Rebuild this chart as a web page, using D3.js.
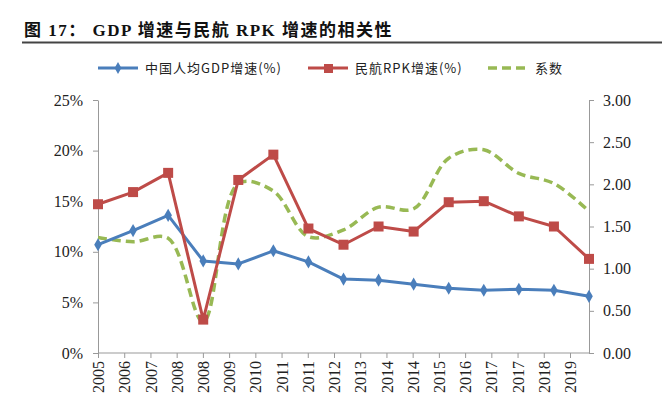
<!DOCTYPE html>
<html>
<head>
<meta charset="utf-8">
<script src="https://cdn.jsdelivr.net/npm/d3@7"></script>
<style>
  body { margin: 0; background: #fff; }
  svg { display: block; }
</style>
</head>
<body>
<div id="chart"></div>
<script>
// data
const years = ["2005", "2006", "2007", "2008", "2009", "2010", "2011", "2012",
  "2013", "2014", "2015", "2016", "2017", "2018", "2019"];
const xTickLabels = ["2005", "2006", "2007", "2008", "2008", "2009", "2010", "2011",
  "2011", "2012", "2013", "2014", "2014", "2015", "2016", "2017", "2017", "2018", "2019"];
const gdpGrowth = [10.7, 12.1, 13.6, 9.1, 8.8, 10.1, 9.0, 7.3, 7.2, 6.8, 6.4, 6.2, 6.3, 6.2, 5.6];
const rpkGrowth = [14.7, 15.9, 17.8, 3.3, 17.1, 19.6, 12.3, 10.7, 12.5, 12.0, 14.9, 15.0, 13.5, 12.5, 9.3];
const coef = [1.37, 1.32, 1.36, 0.37, 2.01, 1.92, 1.38, 1.46, 1.73, 1.71, 2.31, 2.41, 2.13, 2.01, 1.68];
const leftTicks = [0, 5, 10, 15, 20, 25];
const rightTicks = [0, 0.5, 1, 1.5, 2, 2.5, 3];

const W = 666, H = 399;
const margin = { left: 98, right: 77, top: 100, bottom: 46 };
const plotW = W - margin.left - margin.right;
const plotH = H - margin.top - margin.bottom;

const blue = "#4a7ebb", red = "#be4b48", green = "#98b954";
const axisColor = "#999";
const serif = "'Liberation Serif', 'Times New Roman', serif";
const cjk = "'Noto Sans CJK SC', sans-serif";

const svg = d3.select("#chart").append("svg")
  .attr("width", W).attr("height", H);

// title
svg.append("text")
  .attr("x", 24).attr("y", 36)
  .attr("xml:space", "preserve")
  .attr("font-family", serif + ", " + cjk)
  .attr("font-weight", "bold")
  .attr("font-size", 17)
  .attr("letter-spacing", 1.5)
  .attr("fill", "#111")
  .text("图 17： GDP 增速与民航 RPK 增速的相关性");
svg.append("line")
  .attr("x1", 22).attr("x2", 662).attr("y1", 42.5).attr("y2", 42.5)
  .attr("stroke", "#444").attr("stroke-width", 1.8);

const g = svg.append("g").attr("transform", `translate(${margin.left},${margin.top})`);

// scales
const x = d3.scalePoint().domain(years).range([0, plotW]);
const xLab = d3.scalePoint().domain(d3.range(xTickLabels.length)).range([0, 472]);
const yL = d3.scaleLinear().domain([0, 25]).range([plotH, 0]);
const yR = d3.scaleLinear().domain([0, 3]).range([plotH, 0]);

function styleAxis(sel) {
  sel.select(".domain").attr("stroke", axisColor);
  sel.selectAll(".tick line").attr("stroke", axisColor);
  sel.selectAll(".tick text")
    .attr("font-family", serif).attr("font-size", 16).attr("fill", "#222");
}

// left axis
g.append("g")
  .call(d3.axisLeft(yL).tickValues(leftTicks).tickFormat(d => d + "%")
    .tickSize(5).tickSizeOuter(0).tickPadding(10))
  .call(styleAxis);

// right axis
g.append("g")
  .attr("transform", `translate(${plotW},0)`)
  .call(d3.axisRight(yR).tickValues(rightTicks).tickFormat(d3.format(".2f"))
    .tickSize(5).tickSizeOuter(0).tickPadding(9))
  .call(styleAxis);

// bottom axis line
g.append("line")
  .attr("x1", 0).attr("x2", plotW).attr("y1", plotH).attr("y2", plotH)
  .attr("stroke", axisColor);

// bottom axis labels (date-style axis, not aligned with data points)
const xa = g.append("g")
  .attr("transform", `translate(0,${plotH})`)
  .call(d3.axisBottom(xLab).tickFormat(i => xTickLabels[i]).tickSize(5).tickSizeOuter(0));
xa.select(".domain").remove();
xa.call(styleAxis);
xa.selectAll(".tick text")
  .attr("transform", "rotate(-90)")
  .attr("text-anchor", "end")
  .attr("x", -8).attr("y", 0).attr("dy", "0.35em");

// lines
const lineL = d3.line().x((d, i) => x(years[i])).y(d => yL(d));
const lineR = d3.line().x((d, i) => x(years[i])).y(d => yR(d)).curve(d3.curveCatmullRom.alpha(0.5));

g.append("path").datum(coef)
  .attr("d", lineR).attr("fill", "none")
  .attr("stroke", green).attr("stroke-width", 3.5).attr("stroke-dasharray", "9,5");

g.append("path").datum(gdpGrowth)
  .attr("d", lineL).attr("fill", "none")
  .attr("stroke", blue).attr("stroke-width", 3).attr("stroke-linejoin", "round");

g.append("path").datum(rpkGrowth)
  .attr("d", lineL).attr("fill", "none")
  .attr("stroke", red).attr("stroke-width", 3).attr("stroke-linejoin", "round");

// markers
g.selectAll(".dia").data(gdpGrowth).enter().append("path")
  .attr("d", d3.symbol(d3.symbolDiamond, 50))
  .attr("transform", (d, i) => `translate(${x(years[i])},${yL(d)})`)
  .attr("fill", blue);

g.selectAll(".sq").data(rpkGrowth).enter().append("rect")
  .attr("x", (d, i) => x(years[i]) - 5).attr("y", d => yL(d) - 5)
  .attr("width", 10).attr("height", 10)
  .attr("fill", red);

// legend
const legend = svg.append("g").attr("transform", "translate(0,68)");
const items = [
  { label: "中国人均GDP增速(%)", x: 98, color: blue, kind: "diamond" },
  { label: "民航RPK增速(%)", x: 308, color: red, kind: "square" },
  { label: "系数", x: 488, color: green, kind: "dash" }
];
items.forEach(it => {
  const li = legend.append("g").attr("transform", `translate(${it.x},0)`);
  li.append("line").attr("x1", 0).attr("x2", 40).attr("y1", 0).attr("y2", 0)
    .attr("stroke", it.color).attr("stroke-width", it.kind === "dash" ? 3.5 : 3)
    .attr("stroke-dasharray", it.kind === "dash" ? "9,5" : null);
  if (it.kind === "diamond") {
    li.append("path").attr("d", d3.symbol(d3.symbolDiamond, 40))
      .attr("transform", "translate(20,0)").attr("fill", it.color);
  } else if (it.kind === "square") {
    li.append("rect").attr("x", 16).attr("y", -4).attr("width", 9).attr("height", 9)
      .attr("fill", it.color);
  }
  li.append("text")
    .attr("x", 47).attr("y", 0).attr("dy", "0.35em")
    .attr("font-family", cjk).attr("font-size", 13)
    .attr("letter-spacing", 1)
    .attr("fill", "#222")
    .text(it.label);
});
</script>
</body>
</html>
